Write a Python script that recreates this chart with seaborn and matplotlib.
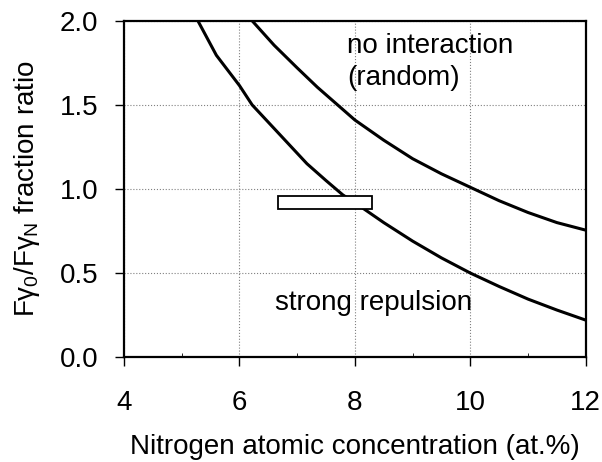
import matplotlib
matplotlib.use("Agg")
import matplotlib.pyplot as plt
from matplotlib.patches import Rectangle
from matplotlib.ticker import MultipleLocator
import seaborn as sns
import pandas as pd

# curves
x_repulsion = [5.28, 5.6, 6.0, 6.22, 6.6, 7.17, 7.5, 7.79, 8.12, 8.5, 9.0, 9.5, 10.0, 10.5, 11.0, 11.5, 12.0]
y_repulsion = [2.0, 1.795, 1.615, 1.5, 1.36, 1.15, 1.05, 0.965, 0.89, 0.80, 0.69, 0.59, 0.50, 0.42, 0.345, 0.28, 0.22]
x_random = [6.22, 6.6, 7.0, 7.35, 7.7, 8.0, 8.5, 9.0, 9.5, 10.0, 10.5, 11.0, 11.5, 12.0]
y_random = [2.0, 1.855, 1.72, 1.605, 1.5, 1.41, 1.29, 1.18, 1.09, 1.01, 0.93, 0.86, 0.80, 0.755]

# measured range box
box_x = [6.66, 8.29]
box_y = [0.88, 0.96]

x_ticks = [4, 6, 8, 10, 12]
y_ticks = [0.0, 0.5, 1.0, 1.5, 2.0]

df = pd.DataFrame({
    "x": x_repulsion + x_random,
    "y": y_repulsion + y_random,
    "curve": ["repulsion"] * len(x_repulsion) + ["random"] * len(x_random),
})

sns.set_style("ticks", {"text.color": "black", "axes.labelcolor": "black",
                        "xtick.color": "black", "ytick.color": "black",
                        "axes.edgecolor": "black"})
plt.rcParams["font.family"] = ["Liberation Sans", "DejaVu Sans"]
plt.rcParams["mathtext.fontset"] = "custom"
plt.rcParams["mathtext.rm"] = "Liberation Sans"
plt.rcParams["mathtext.it"] = "Liberation Sans"

fig = plt.figure(figsize=(6.02, 4.62), dpi=100)
ax = fig.add_axes([0.206, 0.227, 0.767, 0.728])

sns.lineplot(data=df, x="x", y="y", units="curve", estimator=None, sort=False,
             color="black", linewidth=2.2, ax=ax)

ax.add_patch(Rectangle((box_x[0], box_y[0]), box_x[1] - box_x[0], box_y[1] - box_y[0],
                       facecolor="white", edgecolor="black", linewidth=1.3, zorder=3))

ax.set_xlim(4, 12)
ax.set_ylim(0, 2)
ax.set_xticks(x_ticks)
ax.set_yticks(y_ticks)
ax.set_yticklabels([f"{v:.1f}" for v in y_ticks])
ax.xaxis.set_minor_locator(MultipleLocator(1))
ax.tick_params(axis="both", which="major", labelsize=20, length=6.5, width=1, direction="out")
ax.tick_params(axis="x", which="major", pad=17)
ax.tick_params(axis="y", which="major", pad=12)
ax.tick_params(axis="x", which="minor", length=3, direction="in")
ax.grid(True, which="major", linestyle=":", color="gray", linewidth=0.8)
for s in ax.spines.values():
    s.set_linewidth(1.6)
    s.set_visible(True)

ax.text(7.86, 1.81, "no interaction", fontsize=20, va="baseline", ha="left")
ax.text(7.86, 1.62, "(random)", fontsize=20, va="baseline", ha="left")
ax.text(6.61, 0.28, "strong repulsion", fontsize=20, va="baseline", ha="left")

ax.set_xlabel("Nitrogen atomic concentration (at.%)", fontsize=20, labelpad=13)
ax.set_ylabel(r"F$\gamma_{0}$/F$\gamma_{N}$ fraction ratio", fontsize=20, labelpad=13)

fig.savefig("out.png", dpi=100)
